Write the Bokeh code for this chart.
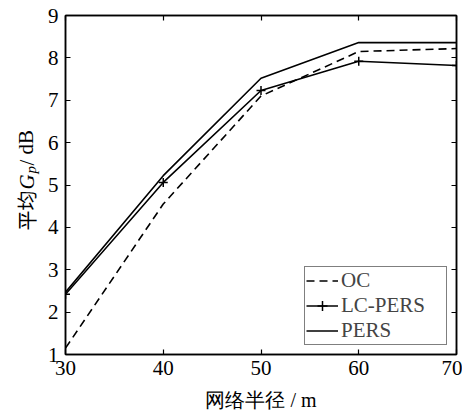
from bokeh.plotting import figure
from bokeh.models import LinearAxis, Range1d, FixedTicker
from bokeh.layouts import row
from bokeh.core.properties import value
from bokeh.embed import file_html
from bokeh.resources import INLINE

radius = [30, 40, 50, 60, 70]
oc = [1.15, 4.55, 7.10, 8.15, 8.22]
lc_pers = [2.42, 5.06, 7.23, 7.92, 7.82]
pers = [2.47, 5.22, 7.52, 8.36, 8.36]
x_ticks = [30, 40, 50, 60, 70]
y_ticks = [1, 2, 3, 4, 5, 6, 7, 8, 9]
x_title = "网络半径 / m"
y_title_parts = ["平均", "G", "p", "/ dB"]

SERIF = "Liberation Serif"
CJK = "Noto Sans CJK SC"
H = 413
LW = 40
F_TOP, F_BOT = 15, 354   # frame top / bottom in canvas pixels

# ---- side panel holding the rotated y-axis title (pixel coordinates) ----
side = figure(width=LW, height=H, x_range=Range1d(0, LW), y_range=Range1d(F_BOT, F_TOP),
              output_backend="svg", toolbar_location=None,
              x_axis_location=None, y_axis_location=None,
              min_border_left=0, min_border_right=0,
              min_border_top=F_TOP, min_border_bottom=H - F_BOT)
side.grid.visible = False
side.outline_line_color = None
side.background_fill_color = "white"
side.border_fill_color = "white"
rot = dict(angle=1.5708, text_align="left", text_baseline="middle", color="black")
side.text(x=[26], y=[230], text=[y_title_parts[0]], text_font=value(CJK),
          text_font_size="20px", **rot)
side.text(x=[26], y=[189], text=[y_title_parts[1]], text_font=value(SERIF),
          text_font_style="italic", text_font_size="21px", **rot)
side.text(x=[30], y=[173], text=[y_title_parts[2]], text_font=value(SERIF),
          text_font_style="italic", text_font_size="15px", **rot)
side.text(x=[26], y=[165], text=[y_title_parts[3]], text_font=value(SERIF),
          text_font_size="21px", **rot)

# ---- main chart ----
p = figure(width=462 - LW, height=H, x_range=Range1d(30, 70), y_range=Range1d(1, 9),
           output_backend="svg", toolbar_location=None,
           min_border_left=65 - LW, min_border_right=6, min_border_top=F_TOP,
           min_border_bottom=H - F_BOT)
p.grid.visible = False
p.outline_line_color = "black"
p.outline_line_width = 1.5
p.background_fill_color = "white"
p.border_fill_color = "white"

def style_axis(ax, ticks, labels=True, standoff=6):
    ax.ticker = FixedTicker(ticks=ticks)
    ax.major_tick_in = 5
    ax.major_tick_out = 0
    ax.minor_tick_line_color = None
    ax.major_tick_line_color = "black"
    ax.major_tick_line_width = 1.2
    ax.axis_line_color = "black"
    ax.axis_line_width = 1.5
    ax.major_label_text_font = SERIF
    ax.major_label_text_color = "black"
    ax.major_label_text_font_size = "21px"
    ax.major_label_standoff = standoff
    if not labels:
        ax.major_label_overrides = {t: "" for t in ticks}
        ax.major_label_standoff = 0

style_axis(p.xaxis[0], x_ticks, True, 6)
style_axis(p.yaxis[0], y_ticks, True, 7)
p.xaxis[0].axis_label = x_title
p.xaxis[0].axis_label_text_font = SERIF
p.xaxis[0].axis_label_text_font_style = "normal"
p.xaxis[0].axis_label_text_font_size = "20px"
p.xaxis[0].axis_label_text_color = "black"
p.xaxis[0].axis_label_standoff = 11

top = LinearAxis()
style_axis(top, x_ticks, False)
p.add_layout(top, "above")
right = LinearAxis()
style_axis(right, y_ticks, False)
p.add_layout(right, "right")

p.line(radius, oc, line_color="black", line_width=1.6, line_dash="8 5", legend_label="OC")
p.line(radius, lc_pers, line_color="black", line_width=1.6, legend_label="LC-PERS")
p.scatter(radius, lc_pers, marker="cross", size=9, line_color="black", line_width=1.5,
          legend_label="LC-PERS")
p.line(radius, pers, line_color="black", line_width=1.6, legend_label="PERS")

lg = p.legend[0]
lg.location = "bottom_right"
lg.margin = 9
lg.padding = 1
lg.spacing = 0
lg.label_height = 25
lg.glyph_height = 25
lg.glyph_width = 32
lg.label_standoff = 3
lg.label_width = 104
lg.label_text_font = SERIF
lg.label_text_font_size = "21px"
lg.border_line_color = "black"
lg.border_line_width = 1.5
lg.background_fill_alpha = 1.0

layout = row(side, p, spacing=0)
open("out.html", "w").write(file_html(layout, INLINE))
